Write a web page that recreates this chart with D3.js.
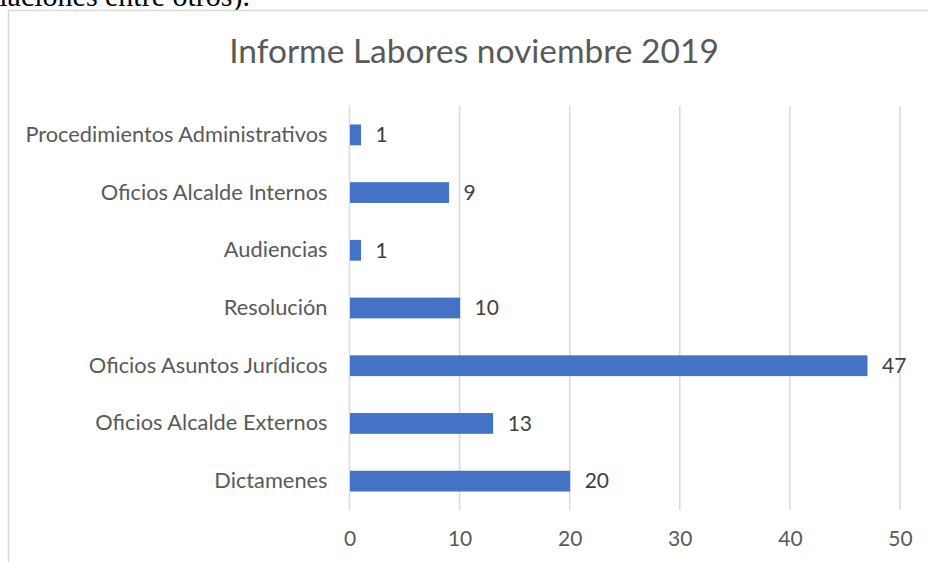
<!DOCTYPE html>
<html>
<head>
<meta charset="utf-8">
<script src="https://cdn.jsdelivr.net/npm/d3@7"></script>
<style>
  body { margin: 0; background: #fff; }
  svg { display: block; }
</style>
</head>
<body>
<svg id="chart" width="928" height="562"></svg>
<script>
const categories = [
  'Procedimientos Administrativos',
  'Oficios Alcalde Internos',
  'Audiencias',
  'Resolución',
  'Oficios Asuntos Jurídicos',
  'Oficios Alcalde Externos',
  'Dictamenes',
];
const values = [1, 9, 1, 10, 47, 13, 20];
const tickValues = [0, 10, 20, 30, 40, 50];
const title = 'Informe Labores noviembre 2019';

const font = 'Lato, "Open Sans", sans-serif';
const svg = d3.select('#chart');

// bit of document text cut off above the chart
svg.append('text')
  .attr('x', 250)
  .attr('y', 6)
  .attr('text-anchor', 'end')
  .attr('font-family', '"Liberation Serif", "Times New Roman", serif')
  .attr('font-size', 30)
  .attr('fill', '#000')
  .text('relaciones entre otros).');

// chart frame (runs off the right and bottom of the page)
svg.append('rect')
  .attr('x', 8.5)
  .attr('y', 10.5)
  .attr('width', 940)
  .attr('height', 570)
  .attr('fill', '#fff')
  .attr('stroke', '#d9d9d9')
  .attr('stroke-width', 1.5);

const margin = { left: 349.5, right: 900, top: 106, bottom: 510 };

const x = d3.scaleLinear().domain([0, 50]).range([margin.left, margin.right]);
const y = d3.scaleBand().domain(categories).range([margin.top, margin.bottom]).paddingInner(0.64).paddingOuter(0.32);

svg.append('text')
  .attr('x', 474)
  .attr('y', 63)
  .attr('text-anchor', 'middle')
  .attr('font-family', font)
  .attr('font-size', 33.5)
  .attr('fill', '#595959')
  .text(title);

// gridlines
svg.append('g')
  .selectAll('line')
  .data(tickValues)
  .join('line')
  .attr('x1', d => x(d))
  .attr('x2', d => x(d))
  .attr('y1', margin.top)
  .attr('y2', margin.bottom)
  .attr('stroke', '#d9d9d9')
  .attr('stroke-width', 1.5);

// x axis labels
const xAxis = svg.append('g')
  .attr('transform', `translate(0,${margin.bottom + 21})`)
  .call(d3.axisBottom(x).tickValues(tickValues).tickSize(0).tickPadding(0));
xAxis.select('.domain').remove();
xAxis.selectAll('text')
  .attr('font-family', font)
  .attr('font-size', 21)
  .attr('fill', '#595959');

// category labels
const yAxis = svg.append('g')
  .attr('transform', `translate(${margin.left - 22},0)`)
  .call(d3.axisLeft(y).tickSize(0).tickPadding(0));
yAxis.select('.domain').remove();
yAxis.selectAll('text')
  .attr('font-family', font)
  .attr('font-size', 21.8)
  .attr('fill', '#595959');

const rows = categories.map((c, i) => ({ cat: c, val: values[i] }));

svg.append('g')
  .selectAll('rect')
  .data(rows)
  .join('rect')
  .attr('x', x(0) + 0.5)
  .attr('y', d => y(d.cat))
  .attr('width', d => x(d.val) - x(0))
  .attr('height', y.bandwidth())
  .attr('fill', '#4472c4');

svg.append('g')
  .selectAll('text')
  .data(rows)
  .join('text')
  .attr('x', d => x(d.val) + 15)
  .attr('y', d => y(d.cat) + y.bandwidth() / 2)
  .attr('dy', '0.35em')
  .attr('font-family', font)
  .attr('font-size', 21)
  .attr('fill', '#404040')
  .text(d => d.val);
</script>
</body>
</html>
